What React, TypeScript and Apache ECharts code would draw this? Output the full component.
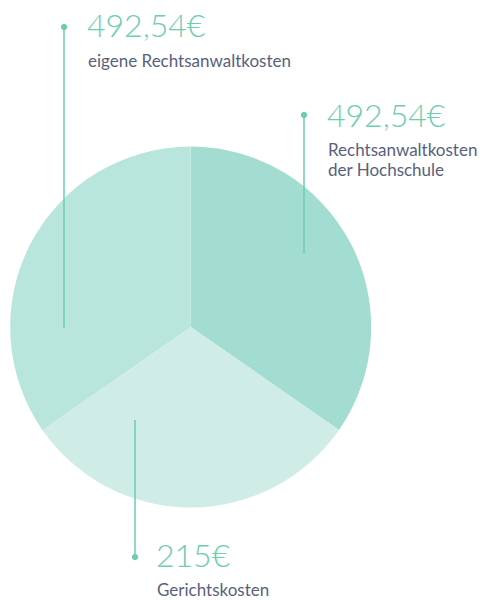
import React, { useEffect, useRef } from "react";
import * as echarts from "echarts";

const categories = ["Rechtsanwaltkosten der Hochschule", "Gerichtskosten", "eigene Rechtsanwaltkosten"];
const values = [492.54, 215, 492.54];
const valueLabels = ["492,54€", "215€", "492,54€"];
const sliceColors = ["#a3dcd0", "#cfece6", "#b8e5dc"];

const TEAL = "#6ccdb0";
const TEXT = "#585f7e";
const FONT = "'Source Sans Pro', Lato, 'Open Sans', sans-serif";

export default function App() {
  const ref = useRef<HTMLDivElement>(null);
  useEffect(() => {
    document.body.style.margin = "0";
    const chart = echarts.init(ref.current!, null, { renderer: "svg" });
    const leader = (x: number, y1: number, y2: number) => [
      { type: "line", shape: { x1: x, y1, x2: x, y2 }, style: { stroke: TEAL, lineWidth: 1.5 }, z: 10 },
      { type: "circle", shape: { cx: x, cy: y1, r: 3.2 }, style: { fill: TEAL }, z: 10 },
    ];
    const num = (x: number, y: number, t: string) => ({
      type: "text", x, y, z: 10,
      style: { text: t, fill: TEAL, font: `300 32px ${FONT}`, textVerticalAlign: "top" },
    });
    const lab = (x: number, y: number, t: string) => ({
      type: "text", x, y, z: 10,
      style: { text: t, fill: TEXT, font: `400 17px ${FONT}`, textVerticalAlign: "top", lineHeight: 20 },
    });
    chart.setOption({
      animation: false,
      series: [
        {
          type: "pie",
          center: [190.7, 327],
          radius: [0, 180.5],
          startAngle: 90,
          clockwise: true,
          minAngle: 110.5,
          label: { show: false },
          labelLine: { show: false },
          emphasis: { disabled: true },
          itemStyle: { borderWidth: 0 },
          data: categories.map((c, i) => ({ name: c, value: values[i], itemStyle: { color: sliceColors[i] } })),
        },
      ],
      graphic: [
        ...leader(64, 27, 328),
        ...leader(304, 115, 253),
        ...leader(135, 557, 420),
        num(87, 8, valueLabels[2]),
        lab(88, 50, categories[2]),
        num(327, 98, valueLabels[0]),
        lab(328, 139, "Rechtsanwaltkosten\nder Hochschule"),
        num(156, 538, valueLabels[1]),
        lab(157, 579, categories[1]),
      ],
    });
    return () => chart.dispose();
  }, []);
  return <div ref={ref} style={{ width: 483, height: 600 }} />;
}
